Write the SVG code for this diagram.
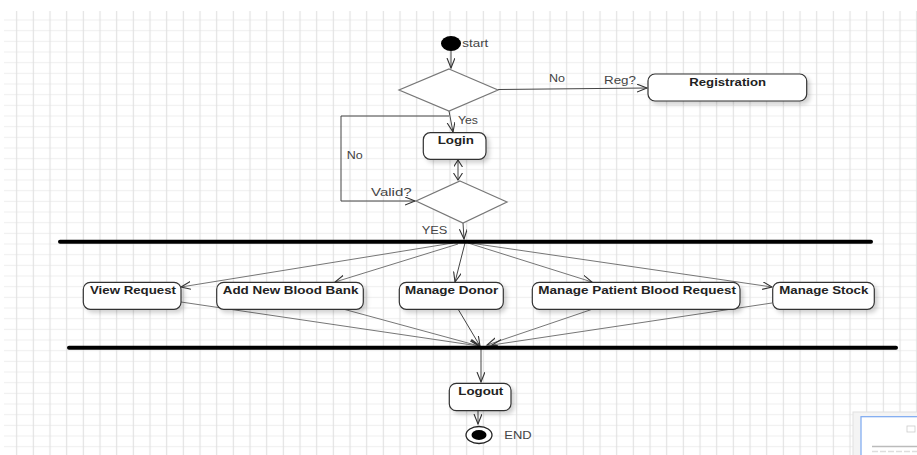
<svg xmlns="http://www.w3.org/2000/svg" width="917" height="455" viewBox="0 0 917 455">
<defs>
<pattern id="grid" x="8.333" y="14.667" width="16.667" height="10.667" patternUnits="userSpaceOnUse">
<line x1="0" y1="5.333" x2="16.667" y2="5.333" stroke="#efefef" stroke-width="1.2"/>
<line x1="8.333" y1="0" x2="8.333" y2="10.667" stroke="#e2e2e2" stroke-width="1.2"/>
</pattern>
<marker id="arr" markerUnits="userSpaceOnUse" markerWidth="12" markerHeight="10" refX="10" refY="4" orient="auto-start-reverse">
<path d="M0,0 L10,4 L0,8" fill="none" stroke="#333" stroke-width="1.1"/>
</marker>
<marker id="arrs" markerUnits="userSpaceOnUse" markerWidth="9" markerHeight="10" refX="7" refY="4.5" orient="auto-start-reverse">
<path d="M0,0 L7,4.5 L0,9" fill="none" stroke="#333" stroke-width="1.1"/>
</marker>
<filter id="sh" x="-10%" y="-20%" width="130%" height="160%">
<feDropShadow dx="3" dy="3" stdDeviation="2" flood-color="#000" flood-opacity="0.18"/>
</filter>
</defs>
<style>
.box{fill:#fff;stroke:#333;stroke-width:1.2;filter:url(#sh)}
.dia{fill:#fff;stroke:#777;stroke-width:1.2}
.lbl{font-family:"Liberation Sans",Arial,sans-serif;font-size:10.5px;font-weight:bold;fill:#222}
.txt{font-family:"Liberation Sans",Arial,sans-serif;font-size:10.5px;fill:#444}
.c{fill:none;stroke:#444;stroke-width:1;marker-end:url(#arr)}
.f{fill:none;stroke:#666;stroke-width:0.9;marker-end:url(#arr)}
.bar{stroke:#000;stroke-width:4;stroke-linecap:round}
</style>
<rect x="0" y="0" width="917" height="455" fill="#fff"/>
<rect x="4" y="11" width="913" height="444" fill="url(#grid)"/>

<g id="connectors">
<line class="c" x1="451" y1="51" x2="451" y2="68"/>
<line class="c" x1="498" y1="89.5" x2="647" y2="88"/>
<line class="c" x1="449" y1="111" x2="453" y2="132"/>
<polyline class="c" points="449,116 341,116 341,201 415,201"/>
<line x1="458" y1="160" x2="458" y2="180" fill="none" stroke="#444" stroke-width="1" marker-start="url(#arrs)" marker-end="url(#arrs)"/>
<line class="c" x1="463" y1="223" x2="464" y2="239"/>
<line class="f" x1="453" y1="243" x2="181" y2="287"/>
<line class="f" x1="458" y1="244" x2="335" y2="282"/>
<line class="c" x1="465" y1="243" x2="455" y2="282"/>
<line class="f" x1="468" y1="243" x2="592" y2="282"/>
<line class="f" x1="470" y1="243" x2="772" y2="287"/>
<line class="f" x1="181" y1="302" x2="479" y2="346"/>
<line class="f" x1="343" y1="309" x2="479" y2="346"/>
<line class="c" x1="458" y1="309" x2="480" y2="346"/>
<line class="f" x1="593" y1="309" x2="487" y2="345"/>
<line class="f" x1="772" y1="303" x2="492" y2="345"/>
<line class="c" x1="481" y1="349" x2="481" y2="382"/>
<line class="c" x1="478" y1="411" x2="478" y2="424"/>
</g>

<g id="labels">
<text class="txt" x="549" y="82" textLength="16" lengthAdjust="spacingAndGlyphs">No</text>
<text class="txt" x="604" y="84" textLength="32" lengthAdjust="spacingAndGlyphs">Reg?</text>
<text class="txt" x="458" y="124" textLength="20" lengthAdjust="spacingAndGlyphs">Yes</text>
<text class="txt" x="346.7" y="158.5" textLength="16" lengthAdjust="spacingAndGlyphs">No</text>
<text class="txt" x="371" y="195.5" textLength="40.7" lengthAdjust="spacingAndGlyphs">Valid?</text>
<text class="txt" x="421.7" y="233.5" textLength="25.7" lengthAdjust="spacingAndGlyphs">YES</text>
</g>

<g id="start">
<ellipse cx="451" cy="43.5" rx="10" ry="7.5" fill="#000"/>
<text class="txt" x="462.3" y="47" textLength="26" lengthAdjust="spacingAndGlyphs">start</text>
</g>

<g id="decision1">
<polygon class="dia" points="449,69 498,90 449,111 399,90"/>
</g>

<g id="registration">
<rect class="box" x="648" y="74" width="158.7" height="27" rx="7"/>
<text class="lbl" x="689.3" y="85.5" textLength="76.7" lengthAdjust="spacingAndGlyphs">Registration</text>
</g>

<g id="login">
<rect class="box" x="423.3" y="132.7" width="62.7" height="26.6" rx="7"/>
<text class="lbl" x="437.7" y="144" textLength="36.3" lengthAdjust="spacingAndGlyphs">Login</text>
</g>

<g id="decision2">
<polygon class="dia" points="460,181 507,202 463,223 416,201"/>
</g>

<g id="forkbar">
<line class="bar" x1="60" y1="241.7" x2="871" y2="241.7"/>
</g>

<g id="viewRequest">
<rect class="box" x="83.3" y="282.3" width="97.7" height="27" rx="7"/>
<text class="lbl" x="90" y="294" textLength="86" lengthAdjust="spacingAndGlyphs">View Request</text>
</g>

<g id="addBloodBank">
<rect class="box" x="216.7" y="282.3" width="146.6" height="27" rx="7"/>
<text class="lbl" x="222.7" y="294" textLength="135.7" lengthAdjust="spacingAndGlyphs">Add New Blood Bank</text>
</g>

<g id="manageDonor">
<rect class="box" x="399.3" y="282.3" width="104" height="27" rx="7"/>
<text class="lbl" x="405" y="294" textLength="93.3" lengthAdjust="spacingAndGlyphs">Manage Donor</text>
</g>

<g id="managePatient">
<rect class="box" x="532.3" y="282.3" width="207.7" height="27" rx="7"/>
<text class="lbl" x="538.3" y="294" textLength="197.7" lengthAdjust="spacingAndGlyphs">Manage Patient Blood Request</text>
</g>

<g id="manageStock">
<rect class="box" x="772.7" y="282.3" width="101.6" height="27" rx="7"/>
<text class="lbl" x="779.3" y="294" textLength="89" lengthAdjust="spacingAndGlyphs">Manage Stock</text>
</g>

<g id="joinbar">
<line class="bar" x1="69" y1="347.7" x2="896" y2="347.7"/>
</g>

<g id="logout">
<rect class="box" x="449.3" y="383.3" width="61.7" height="27.4" rx="7"/>
<text class="lbl" x="458.3" y="395" textLength="45" lengthAdjust="spacingAndGlyphs">Logout</text>
</g>

<g id="end">
<ellipse cx="479" cy="435" rx="13" ry="8.5" fill="#fff" stroke="#222" stroke-width="1.3"/>
<ellipse cx="479" cy="435" rx="7.5" ry="5" fill="#000"/>
<text class="txt" x="504.3" y="439" textLength="27.3" lengthAdjust="spacingAndGlyphs">END</text>
</g>

<g id="minimap">
<rect x="853" y="412" width="70" height="50" fill="#f4f4f4" stroke="#e0e0e0"/>
<rect x="861" y="416.7" width="60" height="45" fill="#fff" stroke="#7aa7f0" stroke-width="1.2"/>
<line x1="872" y1="446.5" x2="917" y2="446.5" stroke="#bbb" stroke-width="1.5"/>
<rect x="907" y="426" width="8" height="6" fill="none" stroke="#ccc" stroke-width="0.8"/>
<line x1="872" y1="451.5" x2="917" y2="451.5" stroke="#ddd" stroke-width="1.5" stroke-dasharray="6,2"/>
</g>
</svg>
